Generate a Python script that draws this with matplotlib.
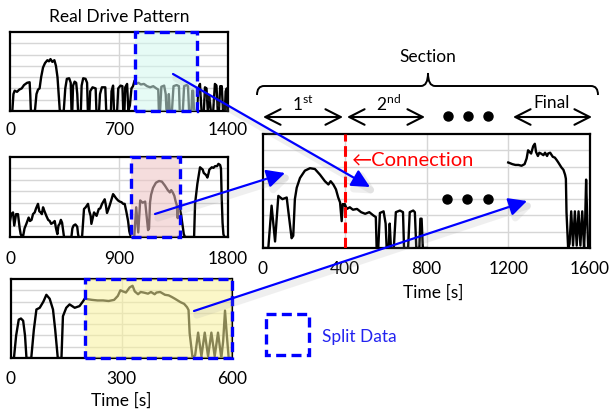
import numpy as np
import matplotlib
matplotlib.use("Agg")
import matplotlib.pyplot as plt
import matplotlib.patheffects as pe
from matplotlib.path import Path
from matplotlib.patches import PathPatch, Rectangle

plt.rcParams['font.family'] = ['Lato', 'DejaVu Sans']
plt.rcParams['mathtext.fontset'] = 'custom'
plt.rcParams['mathtext.rm'] = 'Lato'

# ---- data (speed-like profiles, 0..140 scale) ----
p1_t = [0, 15, 22, 30, 45, 60, 75, 90, 110, 126, 130, 134, 160, 170, 180, 190, 200, 212, 225, 240,
        250, 260, 272, 285, 295, 305, 315, 320, 345, 355, 365, 380, 390, 395, 400, 405, 415, 425, 432,
        437, 455, 460, 470, 485, 495, 500, 510, 515, 530, 550, 555, 572, 578, 590, 612, 618, 648, 652,
        662, 668, 688, 695, 710, 722, 727, 735, 740, 752, 760, 770, 780, 790,
        800, 810, 825, 840, 860, 880, 900, 920, 940, 952, 956, 964, 972, 990, 1000, 1005, 1015, 1020,
        1026, 1040, 1050, 1070, 1085, 1090, 1110, 1118, 1135, 1143, 1150, 1165, 1170, 1176, 1182, 1200,
        1210, 1220, 1230, 1245, 1252, 1262, 1270, 1280, 1290, 1305, 1316, 1326, 1334, 1342, 1350, 1360,
        1368, 1380, 1385, 1392, 1397, 1400]
p1_v = [0, 0, 30, 36, 34, 38, 40, 46, 50, 51, 30, 0, 0, 30, 38, 40, 60, 77, 85, 90,
        88, 92, 87, 90, 80, 60, 20, 0, 0, 40, 57, 58, 50, 0, 0, 45, 52, 50, 30,
        0, 0, 45, 58, 57, 50, 0, 0, 35, 42, 40, 0, 0, 30, 42, 42, 0, 0, 35,
        45, 0, 0, 40, 45, 44, 0, 0, 42, 48, 0, 10, 40, 44,
        54, 48, 50, 47, 48, 44, 42, 44, 40, 38, 0, 0, 43, 45, 30, 0, 0, 30,
        0, 0, 44, 46, 44, 0, 0, 44, 46, 44, 0, 0, 36, 36, 0, 0,
        40, 48, 0, 0, 42, 40, 0, 27, 0, 0, 48, 45, 0, 0, 44, 44,
        0, 0, 35, 40, 0, 0]

p2_t = [0, 10, 25, 35, 50, 66, 80, 88, 100, 107, 120, 135, 154, 165, 178, 190, 204, 215, 231, 242,
        253, 263, 273, 285, 300, 315, 328, 340, 355, 369, 380, 391, 400, 410, 420, 430, 440, 446, 507,
        515, 525, 540, 555, 562, 567, 595, 605, 611, 625, 644, 655, 666, 672, 680, 694, 705, 715, 733,
        745, 760, 782, 792, 801, 815, 830, 851, 862, 875, 892, 906, 920, 935, 947, 960, 975, 985, 991,
        1000, 1026, 1042, 1059, 1075, 1095, 1116, 1124, 1140, 1148, 1156, 1165, 1181, 1205, 1230, 1254,
        1279, 1303, 1320, 1331, 1344, 1357, 1368, 1377, 1385, 1390, 1400,
        1412, 1425, 1435, 1445, 1520, 1528, 1547, 1560, 1569, 1580, 1591, 1600, 1611, 1620, 1630, 1640,
        1646, 1666, 1680, 1693, 1710, 1721, 1735, 1742, 1748, 1755, 1762, 1770, 1800]
p2_v = [28, 40, 43, 20, 40, 40, 15, 5, 0, 0, 15, 23, 34, 28, 30, 40, 43, 50, 58, 45,
        43, 40, 52, 45, 37, 30, 28, 23, 25, 28, 15, 5, 20, 23, 30, 25, 10, 0, 0,
        15, 20, 22, 18, 5, 0, 0, 30, 49, 52, 58, 45, 37, 23, 30, 43, 40, 37, 49,
        50, 58, 66, 55, 42, 50, 60, 75, 72, 68, 64, 62, 61, 58, 58, 45, 28, 10, 5,
        0, 0, 52, 8, 64, 60, 62, 45, 12, 15, 60, 74, 86, 95, 98, 97,
        90, 82, 78, 82, 78, 72, 62, 56, 33, 54, 52,
        40, 20, 5, 0, 0, 58, 93, 110, 122, 120, 118, 112, 110, 108, 104, 112,
        118, 122, 121, 124, 124, 128, 126, 120, 69, 25, 5, 0, 0]

p3_t = [0, 8, 14, 21, 27, 33, 38, 42, 55, 62, 69, 78, 88, 96, 105, 114, 120, 127, 137, 141,
        150, 159, 166, 173, 186, 195,
        200, 210, 220, 235, 250, 265, 280, 290, 297, 304, 312, 322, 330, 336, 345, 352, 360, 372, 380,
        390, 395, 405, 418, 428, 437, 445, 460, 470, 478, 482, 485, 493, 500, 508, 517, 526, 535, 544,
        553, 562, 571, 576, 581, 586, 591, 600]
p3_v = [0, 0, 40, 68, 70, 66, 40, 0, 0, 50, 86, 89, 100, 112, 105, 86, 50, 0, 0, 74,
        89, 95, 92, 89, 92, 100,
        105, 104, 103, 102, 102, 101, 103, 110, 120, 118, 116, 125, 128, 118, 113, 117, 116, 114, 117,
        113, 116, 117, 112, 111, 108, 105, 99, 96, 90, 85, 44, 0, 5, 45, 3, 45, 3, 45,
        3, 45, 0, 30, 84, 40, 0, 0]

# split windows: start of each cut in its source pattern, and where it goes in the joined one
split_len = 400
p1_split = 800
p2_split = 1000
p3_split = 200
section_starts = [0, 400, 1200]
dots_t = [900, 1000, 1100]
dots_v = [60, 60, 60]

W, H = 611, 414
fig = plt.figure(figsize=(W / 100, H / 100), dpi=100)

LW = 1.7
FS = 12.5


def box(l, t, r, b):
    return [l / W, 1 - b / H, (r - l) / W, (b - t) / H]


def style(ax, xmax, xticks, vgrid, pad):
    ax.set_xlim(0, xmax)
    ax.set_ylim(0, 140)
    ax.set_yticks([])
    for y in range(20, 140, 20):
        ax.axhline(y, color='#d6d6d6', lw=1, zorder=0)
    for x in vgrid:
        ax.axvline(x, color='#d6d6d6', lw=1, zorder=0)
    ax.set_xticks(xticks)
    ax.set_xticklabels([str(x) for x in xticks])
    ax.tick_params(axis='x', length=0, pad=pad, labelsize=FS)
    for s in ax.spines.values():
        s.set_linewidth(1.6)
        s.set_color('black')


def panel(rect, t, v, xmax, split, fill, pad):
    ax = fig.add_axes(rect)
    style(ax, xmax, [0, xmax // 2, xmax], [xmax // 2], pad)
    ax.plot(t, v, color='black', lw=LW, zorder=2)
    ax.axvspan(split, split + split_len, color=fill, alpha=0.55, lw=0, zorder=3)
    ax.add_patch(Rectangle((split, 0), split_len, 140, fill=False, ec='#0000ff', lw=2.4,
                           ls=(0, (3, 1.6)), clip_on=False, zorder=4))
    return ax


ax1 = panel(box(10, 33, 228, 112), p1_t, p1_v, 1400, p1_split, '#d2f8ee', 7)
ax2 = panel(box(10, 158, 228, 238), p2_t, p2_v, 1800, p2_split, '#eec2c2', 9)
ax3 = panel(box(11, 280, 232, 359), p3_t, p3_v, 600, p3_split, '#f9f29b', 9)
ax3.set_xlabel('Time [s]', fontsize=FS, labelpad=4)


def cut(t, v, start, offset):
    t = np.array(t)
    v = np.array(v)
    m = (t >= start) & (t <= start + split_len)
    return t[m] - start + offset, v[m]


# joined pattern
axm = fig.add_axes(box(263, 135, 590, 249))
style(axm, 1600, [0, 400, 800, 1200, 1600], [400, 800, 1200], 9)
a_t, a_v = cut(p2_t, p2_v, p2_split, section_starts[0])
b_t, b_v = cut(p1_t, p1_v, p1_split, section_starts[1])
c_t, c_v = cut(p3_t, p3_v, p3_split, section_starts[2])
axm.plot(np.concatenate([a_t, b_t]), np.concatenate([a_v, b_v]), color='black', lw=LW, zorder=2)
axm.plot(c_t, c_v, color='black', lw=LW, zorder=2)
axm.axvline(section_starts[1], color='#ff0000', lw=2.2, ls=(0, (3.5, 1.5)), zorder=3)
axm.plot(dots_t, dots_v, 'o', color='black', ms=6.5, zorder=3)
axm.text(435, 109, '\u2190Connection', color='#ff0000', fontsize=14.5, va='center', ha='left')
axm.set_xlabel('Time [s]', fontsize=FS)
axm.xaxis.set_label_coords(0.52, -0.31)

# overlay in pixel coordinates for annotations
ov = fig.add_axes([0, 0, 1, 1])
ov.set_xlim(0, W)
ov.set_ylim(H, 0)
ov.axis('off')
ov.patch.set_alpha(0)

fig.text(119 / W, 1 - 17 / H, 'Real Drive Pattern', ha='center', va='center', fontsize=FS)
fig.text(428 / W, 1 - 57 / H, 'Section', ha='center', va='center', fontsize=FS)

# brace
verts = [(257, 96), (257, 87), (264, 87), (421, 87), (428, 87), (428, 74),
         (428, 87), (435, 87), (591, 87), (598, 87), (598, 96)]
codes = [Path.MOVETO, Path.CURVE3, Path.CURVE3, Path.LINETO, Path.CURVE3, Path.CURVE3,
         Path.CURVE3, Path.CURVE3, Path.LINETO, Path.CURVE3, Path.CURVE3]
ov.add_patch(PathPatch(Path(verts, codes), fill=False, lw=1.4, ec='black'))

dbl = dict(arrowstyle='<->,head_length=0.55,head_width=0.28', lw=1.5, color='black',
           mutation_scale=20, shrinkA=0, shrinkB=0)
for x0, x1 in [(263, 343), (347, 425), (513, 592)]:
    ov.annotate('', xy=(x1, 118), xytext=(x0, 118), arrowprops=dbl)
ov.plot([448, 468, 488], [117, 117, 117], 'o', color='black', ms=6.5)
ov.text(303, 104, '1$^{\\rm st}$', ha='center', va='center', fontsize=FS)
ov.text(388, 104, '2$^{\\rm nd}$', ha='center', va='center', fontsize=FS)
ov.text(552, 103, 'Final', ha='center', va='center', fontsize=FS)

# blue arrows from split data to sections, with a soft shadow
blue = dict(arrowstyle='-|>,head_length=0.5,head_width=0.25', lw=1.6, color='#0000ff',
            mutation_scale=22, shrinkA=0, shrinkB=0)
for s, e in [((173, 75), (370, 188)), ((155, 215), (285, 174)), ((194, 312), (527, 202))]:
    ann = ov.annotate('', xy=e, xytext=s, arrowprops=blue)
    ann.arrow_patch.set_path_effects([
        pe.SimpleLineShadow(offset=(2, -3), shadow_color='0.6', alpha=0.15, linewidth=5),
        pe.Normal()])

# legend
ov.add_patch(Rectangle((266, 315), 43, 41, fill=False, ec='#0000ff', lw=2.4, ls=(0, (3, 1.6))))
ov.text(322, 337, 'Split Data', color='#2323f0', fontsize=FS, va='center', ha='left')

fig.savefig('out.png', dpi=100)
